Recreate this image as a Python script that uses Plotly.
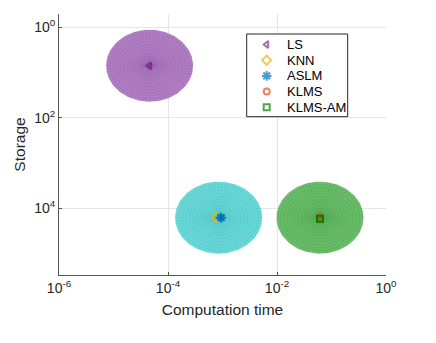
import numpy as np
import plotly.graph_objects as go

# ---- data ----
methods = ["LS", "KNN", "ASLM", "KLMS", "KLMS-AM"]
comp_time = [4.6e-5, 7.7e-4, 9.4e-4, 0.0615, 0.0615]
storage = [7.1, 1.6e4, 1.6e4, 1.55e4, 1.7e4]
marker_symbols = ["triangle-left-open", "diamond-open", "asterisk-open", "circle-open", "square-open"]
marker_sizes = [6, 7, 8, 6, 6]
marker_colors = ["#7E2F8E", "#EDB120", "#0072BD", "#D95319", "#008000"]

# ellipse groups (centre in data, spread in decades)
ell_time = [4.6e-5, 8.5e-4, 0.0615]
ell_storage = [7.1, 1.6e4, 1.6e4]
ell_spread_x = [0.795, 0.795, 0.795]
ell_spread_y = [0.79, 0.79, 0.79]
ell_fill = ["rgb(177,128,196)", "rgb(108,217,217)", "rgb(108,189,108)"]
ell_mesh = ["rgba(130,70,155,0.35)", "rgba(40,170,170,0.35)", "rgba(40,140,40,0.35)"]

x_tickvals = [1e-6, 1e-4, 1e-2, 1e0]
x_ticktext = ["10<sup>-6</sup>", "10<sup>-4</sup>", "10<sup>-2</sup>", "10<sup>0</sup>"]
y_tickvals = [1e0, 1e2, 1e4]
y_ticktext = ["10<sup>0</sup>", "10<sup>2</sup>", "10<sup>4</sup>"]

# ---- layout geometry (pixels) ----
W, H = 436, 343
L, R, T, B = 59, 50, 14, 68
pw, ph = W - L - R, H - T - B

def px_x(p):
    return (p - L) / pw

def px_y(p):
    return (H - B - p) / ph

fig = go.Figure()

t = np.linspace(0, 2 * np.pi, 181)
for cx, cy, rx, ry, fc, mc in zip(ell_time, ell_storage, ell_spread_x, ell_spread_y, ell_fill, ell_mesh):
    lx, ly = np.log10(cx), np.log10(cy)
    ex = 10 ** (lx + rx * np.cos(t))
    ey = 10 ** (ly + ry * np.sin(t))
    fig.add_trace(go.Scatter(x=ex, y=ey, mode="lines", fill="toself", fillcolor=fc,
                             line=dict(width=0, color=fc), hoverinfo="skip", showlegend=False))
    # mesh texture: rings and spokes
    mx, my = [], []
    for k in np.linspace(0.1, 1.0, 12):
        mx += list(10 ** (lx + k * rx * np.cos(t))) + [None]
        my += list(10 ** (ly + k * ry * np.sin(t))) + [None]
    for a in np.linspace(0, 2 * np.pi, 73)[:-1]:
        mx += [10 ** lx, 10 ** (lx + rx * np.cos(a)), None]
        my += [10 ** ly, 10 ** (ly + ry * np.sin(a)), None]
    fig.add_trace(go.Scatter(x=mx, y=my, mode="lines", line=dict(width=0.5, color=mc),
                             hoverinfo="skip", showlegend=False))

for name, xv, yv, sym, sz, col in zip(methods, comp_time, storage, marker_symbols, marker_sizes, marker_colors):
    fig.add_trace(go.Scatter(x=[xv], y=[yv], mode="markers", name=name, showlegend=False,
                             marker=dict(symbol=sym, size=sz, color=col, line=dict(width=2, color=col))))

# ---- custom legend (MATLAB-like compact rows) ----
leg_left, leg_right, leg_top, leg_bottom = 246.7, 347.7, 34, 116.7
row0, row_step = 44.5, 15.7
mark_px, text_px = 266.7, 284.5
bx = [px_x(leg_left), px_x(leg_right), px_x(leg_right), px_x(leg_left), px_x(leg_left)]
by = [px_y(leg_top), px_y(leg_top), px_y(leg_bottom), px_y(leg_bottom), px_y(leg_top)]
fig.add_trace(go.Scatter(x=bx, y=by, mode="lines", fill="toself", fillcolor="white",
                         line=dict(color="#262626", width=1), xaxis="x2", yaxis="y2",
                         showlegend=False, hoverinfo="skip"))
leg_y = [px_y(row0 + i * row_step) for i in range(len(methods))]
for name, yy in zip(methods, leg_y):
    fig.add_annotation(x=px_x(text_px), y=yy, xref="paper", yref="paper", text=name,
                       showarrow=False, xanchor="left", yanchor="middle",
                       font=dict(size=13, color="#000000", family="Liberation Sans, Arial"))
fig.add_trace(go.Scatter(x=[px_x(mark_px)] * len(methods), y=leg_y, mode="markers",
                         xaxis="x2", yaxis="y2", showlegend=False, hoverinfo="skip",
                         marker=dict(symbol=marker_symbols, size=marker_sizes, color=marker_colors,
                                     line=dict(width=2, color=marker_colors))))

axis_common = dict(type="log", showgrid=True, gridcolor="#e5e5e5", gridwidth=1,
                   showline=True, linecolor="#555555", linewidth=1, ticks="inside",
                   ticklen=3, tickcolor="#555555", zeroline=False, automargin=False,
                   tickfont=dict(family="Liberation Sans, Arial", size=14, color="#262626"))

fig.update_layout(
    width=W, height=H,
    margin=dict(l=L, r=R, t=T, b=B, autoexpand=False),
    paper_bgcolor="white", plot_bgcolor="white",
    font=dict(family="Liberation Sans, Arial", color="#262626"),
    xaxis=dict(**axis_common, range=[-6, 0], tickvals=x_tickvals, ticktext=x_ticktext,
               title=dict(text="Computation time", font=dict(size=15.5), standoff=9)),
    yaxis=dict(**axis_common, range=[5.47, -0.29], tickvals=y_tickvals, ticktext=y_ticktext,
               title=dict(text="Storage", font=dict(size=15.5), standoff=4)),
    xaxis2=dict(overlaying="x", range=[0, 1], visible=False, domain=[0, 1]),
    yaxis2=dict(overlaying="y", range=[0, 1], visible=False, domain=[0, 1]),
    showlegend=False,
)

fig.write_html("out.html", post_script="document.body.style.margin='0';",
               config={"displayModeBar": False})
